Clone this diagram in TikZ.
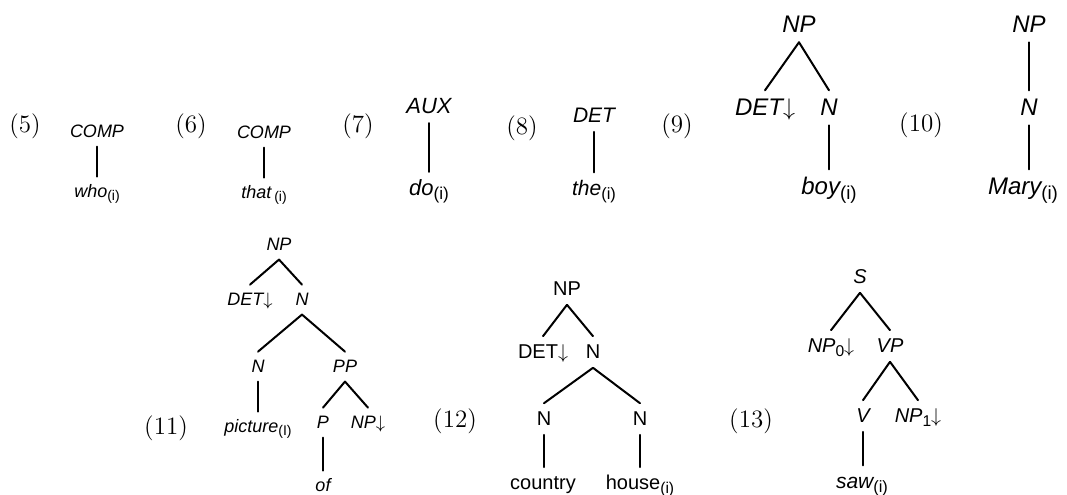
\documentclass[tikz,border=0pt]{standalone}
\usepackage{fontspec}
\newfontfamily\hv{Liberation Sans}
\tikzset{
  tn/.style={font=\hv\itshape\fontsize{#1}{#1}\selectfont, anchor=base, inner xsep=0pt, inner ysep=3.5pt, text height={0.72*#1pt}, text depth={0.12*#1pt}},
  tu/.style={font=\hv\upshape\fontsize{#1}{#1}\selectfont, anchor=base, inner xsep=0pt, inner ysep=3.5pt, text height={0.72*#1pt}, text depth={0.12*#1pt}},
  num/.style={font=\fontsize{12.5}{12.5}\selectfont, anchor=base, inner sep=0pt},
  br/.style={line width=1pt, line cap=round},
}
\newcommand{\ssub}[1]{\raisebox{-0.4ex}{\upshape\fontsize{\the\dimexpr0.78em\relax}{0pt}\selectfont #1}}
\begin{document}
\begin{tikzpicture}[x=0.5pt, y=-0.5pt]
\path[fill=white] (0,0) rectangle (1067,494);
\useasboundingbox (0,0) rectangle (1067,494);

% numbers
\node[num] (l5) at (25,132) {(5)};
\node[num] (l6) at (191,132) {(6)};
\node[num] (l7) at (358,132) {(7)};
\node[num] (l8) at (522,134) {(8)};
\node[num] (l9) at (677,132) {(9)};
\node[num] (l10) at (921,131) {(10)};
\node[num] (l11) at (166,434) {(11)};
\node[num] (l12) at (455,427) {(12)};
\node[num] (l13) at (751,427) {(13)};

% (5)
\node[tn=9] (c5) at (97,137) {COMP};
\node[tn=9] (w5) at (97,197) {who\ssub{(i)}};
\draw[br] (c5.south) -- (c5.south |- w5.north);

% (6)
\node[tn=9] (c6) at (264,138) {COMP};
\node[tn=9] (t6) at (264,198) {that\,\ssub{(i)}};
\draw[br] (c6.south) -- (c6.south |- t6.north);

% (7)
\node[tn=11] (aux7) at (429,113) {AUX};
\node[tn=11] (do7) at (429,195) {do\ssub{(i)}};
\draw[br] (aux7.south) -- (aux7.south |- do7.north);

% (8)
\node[tn=10.5] (det8) at (594,122) {DET};
\node[tn=10.5] (the8) at (594,195) {the\ssub{(i)}};
\draw[br] (det8.south) -- (det8.south |- the8.north);

% (9)
\node[tn=12] (np9) at (799,32) {NP};
\node[tn=12] (det9) at (765,115) {DET$\downarrow$};
\node[tn=12] (n9) at (829,115) {N};
\node[tn=12] (boy9) at (829,194) {boy\ssub{(i)}};
\draw[br] (np9.south) -- (det9.north);
\draw[br] (np9.south) -- (n9.north);
\draw[br] (n9.south) -- (n9.south |- boy9.north);

% (10)
\node[tn=12] (np10) at (1029,32) {NP};
\node[tn=12] (n10) at (1029,115) {N};
\node[tn=12] (mary10) at (1023,194) {Mary\ssub{(i)}};
\draw[br] (np10.south) -- (np10.south |- n10.north);
\draw[br] (n10.south) -- (n10.south |- mary10.north);

% (11)
\node[tn=9] (np11) at (279,250) {NP};
\node[tn=9] (det11) at (250,305) {DET$\downarrow$};
\node[tn=9] (n11) at (302,305) {N};
\node[tn=9] (nn11) at (258,372) {N};
\node[tn=9] (pp11) at (345,372) {PP};
\node[tn=9] (pic11) at (258,432) {picture\ssub{(I)}};
\node[tn=9] (p11) at (323,428) {P};
\node[tn=9] (npd11) at (368,428) {NP$\downarrow$};
\node[tn=9] (of11) at (323,491) {of};
\draw[br] (np11.south) -- (det11.north);
\draw[br] (np11.south) -- (n11.north);
\draw[br] (n11.south) -- (nn11.north);
\draw[br] (n11.south) -- (pp11.north);
\draw[br] (nn11.south) -- (nn11.south |- pic11.north);
\draw[br] (pp11.south) -- (p11.north);
\draw[br] (pp11.south) -- (npd11.north);
\draw[br] (p11.south) -- (p11.south |- of11.north);

% (12)
\node[tu=10] (np12) at (567,295) {NP};
\node[tu=10] (det12) at (543,358) {DET$\downarrow$};
\node[tu=10] (n12) at (593,358) {N};
\node[tu=10] (na12) at (544,425) {N};
\node[tu=10] (nb12) at (640,425) {N};
\node[tu=10] (cty12) at (543,489) {country};
\node[tu=10] (hse12) at (640,489) {house\ssub{(i)}};
\draw[br] (np12.south) -- (det12.north);
\draw[br] (np12.south) -- (n12.north);
\draw[br] (n12.south) -- (na12.north);
\draw[br] (n12.south) -- (nb12.north);
\draw[br] (na12.south) -- (na12.south |- cty12.north);
\draw[br] (nb12.south) -- (nb12.south |- hse12.north);

% (13)
\node[tn=10] (s13) at (860,283) {S};
\node[tn=10] (np13) at (831,352) {NP\ssub{0}$\downarrow$};
\node[tn=10] (vp13) at (890,352) {VP};
\node[tn=10] (v13) at (863,422) {V};
\node[tn=10] (npo13) at (918,422) {NP\ssub{1}$\downarrow$};
\node[tn=10.5] (saw13) at (862,488) {saw\ssub{(i)}};
\draw[br] (s13.south) -- (np13.north);
\draw[br] (s13.south) -- (vp13.north);
\draw[br] (vp13.south) -- (v13.north);
\draw[br] (vp13.south) -- (npo13.north);
\draw[br] (v13.south) -- (v13.south |- saw13.north);
\end{tikzpicture}
\end{document}
